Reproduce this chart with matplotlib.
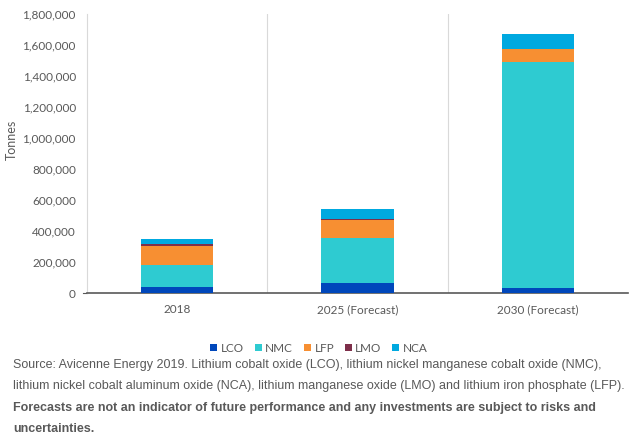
import matplotlib
matplotlib.use('Agg')
import matplotlib.pyplot as plt
from matplotlib.ticker import FuncFormatter
import numpy as np

# ── data (tonnes) ──
categories = ['2018', '2025 (Forecast)', '2030 (Forecast)']
series = ['LCO', 'NMC', 'LFP', 'LMO', 'NCA']
lco = [40000, 67000, 34000]
nmc = [138000, 287000, 1457000]
lfp = [123000, 117000, 84000]
lmo = [13000, 6000, 0]
nca = [32000, 65000, 97000]

COLORS = ['#0047BB', '#2ECBD1', '#F78F32', '#7E2F4A', '#00A9E0']
GRAY = '#595959'
LIGHT = '#D9D9D9'

fig = plt.figure(figsize=(6.33, 4.43), dpi=100)
ax = fig.add_axes([87 / 633, 1 - 293 / 443, (628 - 87) / 633, (293 - 14) / 443])

x = np.arange(len(categories))
bottom = np.zeros(len(categories))
for name, vals, col in zip(series, [lco, nmc, lfp, lmo, nca], COLORS):
    ax.bar(x, vals, width=0.40, bottom=bottom, color=col, label=name, zorder=3)
    bottom += np.array(vals)

ax.set_xlim(-0.5, len(categories) - 0.5)
ax.set_ylim(0, 1800000)
ax.set_yticks(np.arange(0, 1800001, 200000))
ax.yaxis.set_major_formatter(FuncFormatter(lambda v, p: f'{int(v):,}'))
ax.set_xticks(x)
ax.set_xticklabels(categories)

# category separators
for b in [0.5, 1.5]:
    ax.axvline(b, color=LIGHT, lw=0.8, zorder=1)

for s in ['top', 'right']:
    ax.spines[s].set_visible(False)
ax.spines['left'].set_color(LIGHT)
ax.spines['left'].set_linewidth(0.8)
ax.spines['bottom'].set_color(GRAY)
ax.spines['bottom'].set_linewidth(1.2)

ax.tick_params(axis='y', length=0, pad=8, labelsize=8.5, labelcolor=GRAY)
ax.tick_params(axis='x', length=0, pad=8, labelsize=8.5, labelcolor=GRAY)
for lab in ax.get_xticklabels() + ax.get_yticklabels():
    lab.set_fontfamily('Lato')
ax.plot([-0.52, -0.5], [0, 0], color=GRAY, lw=0.8, clip_on=False)

fig.text(12 / 633, 1 - 140 / 443, 'Tonnes', rotation=90, ha='center', va='center',
         fontsize=9, color=GRAY, fontfamily='Lato')

leg = fig.legend(loc='center', bbox_to_anchor=(319 / 633, 1 - 348 / 443), ncol=5,
                 frameon=False, handlelength=0.6, handleheight=0.6,
                 handletextpad=0.3, columnspacing=0.9, prop={'family': 'Lato', 'size': 8.5})
for t in leg.get_texts():
    t.set_color(GRAY)

lines = [
    ('Source: Avicenne Energy 2019. Lithium cobalt oxide (LCO), lithium nickel manganese cobalt oxide (NMC),', 'normal', 365),
    ('lithium nickel cobalt aluminum oxide (NCA), lithium manganese oxide (LMO) and lithium iron phosphate (LFP).', 'normal', 386),
    ('Forecasts are not an indicator of future performance and any investments are subject to risks and', 'bold', 408),
    ('uncertainties.', 'bold', 429),
]
for s, w, yy in lines:
    fig.text(13 / 633, 1 - yy / 443, s, ha='left', va='center', fontsize=9.0,
             fontweight=w, color=GRAY, fontfamily='Liberation Sans')

fig.savefig('out.png', dpi=100, facecolor='white')
